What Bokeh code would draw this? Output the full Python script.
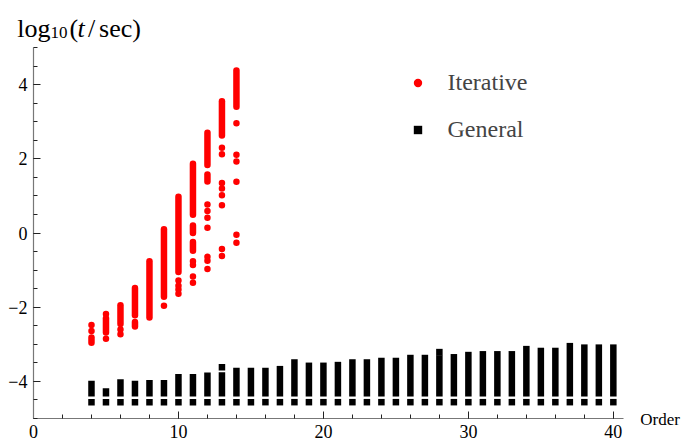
from bokeh.plotting import figure
from bokeh.models import Range1d, FixedTicker, Label, Legend, LegendItem
from bokeh.embed import file_html
from bokeh.resources import INLINE

# ---------------- data ----------------
# Iterative: continuous streaks of points (order, top, bottom)
it_seg_order = [4, 5, 6, 7, 7, 8, 9, 10, 11, 11, 11, 12, 12, 13, 14]
it_seg_top = [-2.82, -2.30, -1.95, -1.48, -2.40, -0.76, 0.10, 0.98, 1.87, 0.20, -0.24, 2.70, 1.58, 3.55, 4.38]
it_seg_bottom = [-2.96, -2.68, -2.45, -2.22, -2.52, -2.28, -1.72, -1.05, 0.49, 0.00, -0.48, 1.83, 1.39, 2.63, 3.40]
# Iterative: isolated points
it_dot_order = [4, 4, 5, 5, 6, 6, 9, 10, 10, 10, 10, 11, 11, 11, 11,
                12, 12, 12, 12, 12, 12, 12, 13, 13, 13, 13, 13, 13, 13, 13,
                14, 14, 14, 14, 14, 14]
it_dot_y = [-2.48, -2.64, -2.18, -2.85, -2.60, -2.73, -1.96, -1.28, -1.42, -1.52, -1.64,
            -0.76, -0.86, -1.17, -1.34,
            0.77, 0.59, 0.41, 0.14, -0.64, -0.75, -0.97,
            2.30, 2.12, 1.35, 1.20, 1.02, 0.75, -0.43, -0.62,
            2.96, 2.11, 1.93, 1.38, -0.05, -0.26]

# General: continuous streaks per order (top, bottom) and a separate lowest point
gen_order = list(range(4, 41))
gen_top = [-4.07, -4.27, -4.03, -4.07, -4.05, -4.05, -3.89, -3.89, -3.85, -3.84,
           -3.72, -3.72, -3.72, -3.67, -3.49, -3.58, -3.58, -3.56, -3.49, -3.49,
           -3.45, -3.45, -3.37, -3.37, -3.38, -3.35, -3.29, -3.27, -3.27, -3.27,
           -3.13, -3.18, -3.18, -3.05, -3.09, -3.09, -3.09]
gen_bottom = [-4.32, -4.32, -4.32, -4.32, -4.32, -4.32, -4.32, -4.32, -4.32, -4.32,
              -4.32, -4.32, -4.32, -4.32, -4.32, -4.32, -4.32, -4.32, -4.32, -4.32,
              -4.32, -4.32, -4.32, -4.32, -4.32, -4.32, -4.32, -4.32, -4.32, -4.32,
              -4.32, -4.32, -4.32, -4.32, -4.32, -4.32, -4.32]
gen_low = [-4.56, -4.56, -4.56, -4.56, -4.56, -4.56, -4.56, -4.56, -4.56, -4.56,
           -4.56, -4.56, -4.56, -4.56, -4.56, -4.56, -4.56, -4.56, -4.56, -4.56,
           -4.56, -4.56, -4.56, -4.56, -4.56, -4.56, -4.56, -4.56, -4.56, -4.56,
           -4.56, -4.56, -4.56, -4.56, -4.56, -4.56, -4.56]
gen_extra_order = [13, 28]
gen_extra_y = [-3.62, -3.21]

x_ticks = [0, 10, 20, 30, 40]
y_ticks = [-4, -2, 0, 2, 4]
y_tick_labels = {-4: "\u22124", -2: "\u22122", 0: "0", 2: "2", 4: "4"}

FONT = "Liberation Serif"

# The frame covers the whole canvas; the axes sit at fixed data locations
p = figure(width=683, height=441, output_backend="svg", toolbar_location=None,
           x_range=Range1d(-2.2765, 44.84), y_range=Range1d(-5.62, 6.267),
           min_border=0)
p.grid.visible = False
p.outline_line_color = None

xa = p.xaxis[0]
ya = p.yaxis[0]
xa.fixed_location = -5
ya.fixed_location = 0
xa.bounds = (0, 40.7)
ya.bounds = (-5, 5)

for ax in (xa, ya):
    ax.major_tick_out = 0
    ax.major_tick_in = 7
    ax.minor_tick_out = 0
    ax.minor_tick_in = 4
    ax.axis_line_color = "#777777"
    ax.axis_line_width = 1.2
    ax.major_tick_line_color = "#222222"
    ax.minor_tick_line_color = "#222222"
    ax.major_label_text_font = FONT
    ax.major_label_text_font_size = "18px"
    ax.major_label_text_color = "black"

xa.ticker = FixedTicker(ticks=x_ticks, minor_ticks=list(range(0, 41, 2)))
xa.major_label_standoff = 7
ya.ticker = FixedTicker(ticks=y_ticks, minor_ticks=[v / 2 for v in range(-10, 11)])
ya.major_label_overrides = y_tick_labels
ya.major_label_standoff = 6

# Iterative
p.segment(x0=it_seg_order, y0=it_seg_top, x1=it_seg_order, y1=it_seg_bottom,
          line_color="#ff0000", line_width=6.5, line_cap="round")
r_it = p.scatter(it_dot_order, it_dot_y, marker="circle", size=6.5,
                 fill_color="#ff0000", line_color=None)

# General
p.segment(x0=gen_order, y0=gen_top, x1=gen_order, y1=gen_bottom,
          line_color="black", line_width=6.5, line_cap="square")
p.scatter(gen_extra_order, gen_extra_y, marker="square", size=6.5,
          fill_color="black", line_color=None)
r_gen = p.scatter(gen_order, gen_low, marker="square", size=6.5,
                  fill_color="black", line_color=None)

legend = Legend(items=[LegendItem(label="Iterative", renderers=[r_it]),
                       LegendItem(label="General", renderers=[r_gen])],
                location=(406.5, 298), border_line_color=None,
                background_fill_alpha=0, padding=0, margin=0,
                glyph_width=21, glyph_height=21, label_standoff=20,
                spacing=20, label_text_font=FONT, label_text_font_size="24px")
p.add_layout(legend)

# y-axis title log10(t/sec) and x-axis title, placed in data units
def lab(text, x, y, size="26px", style="normal", baseline="alphabetic"):
    p.add_layout(Label(x=x, y=y, text=text,
                       text_font=FONT, text_font_size=size, text_font_style=style,
                       text_baseline=baseline, text_color="black"))

lab("log", -1.124, 5.499)
lab("10", 1.172, 5.396, size="17px")
lab("(", 2.483, 5.499)
lab("t", 3.034, 5.499, style="italic")
lab("/", 3.76, 5.499)
lab("sec)", 4.52, 5.499)

lab("Order", 41.86, -5.03, size="17px", baseline="middle")

open("out.html", "w").write(file_html(p, INLINE))
